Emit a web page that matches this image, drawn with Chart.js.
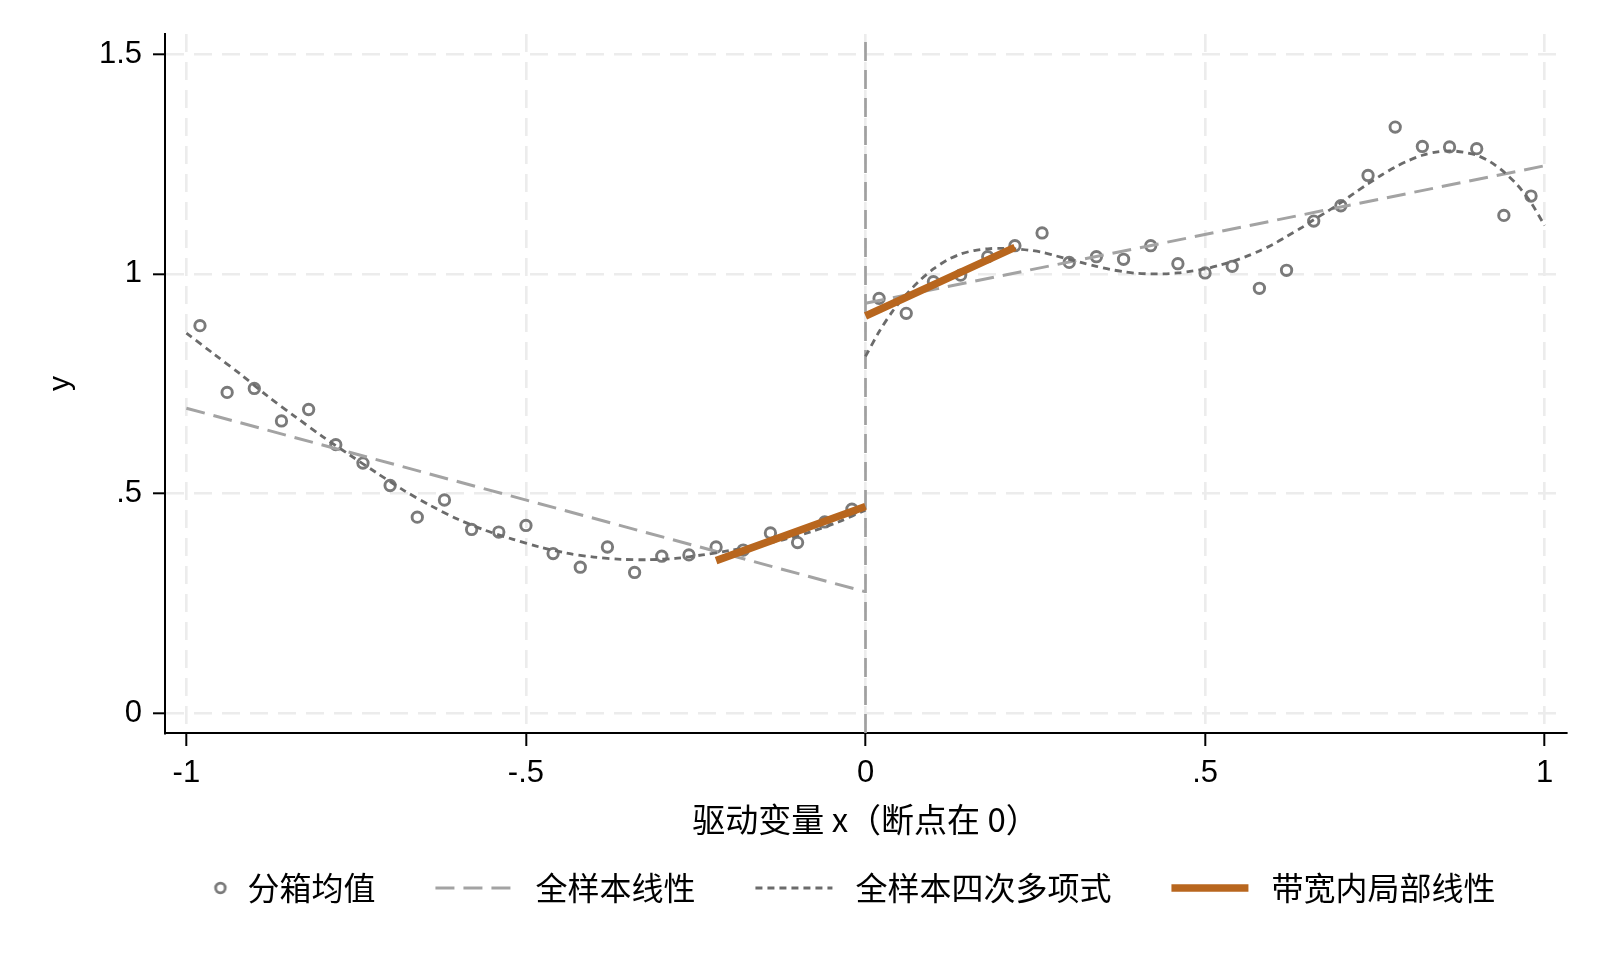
<!DOCTYPE html>
<html>
<head>
<meta charset="utf-8">
<script src="https://cdn.jsdelivr.net/npm/chart.js@4"></script>
<style>
html,body{margin:0;padding:0;background:#fff;}
#wrap{width:1600px;height:960px;}
canvas{display:block;}
</style>
</head>
<body>
<div id="wrap"><canvas id="c" width="1600" height="960"></canvas></div>
<script>
// ---------------- data ----------------
const BIN_X_LEFT  = [-0.98,-0.94,-0.90,-0.86,-0.82,-0.78,-0.74,-0.70,-0.66,-0.62,-0.58,-0.54,-0.50,-0.46,-0.42,-0.38,-0.34,-0.30,-0.26,-0.22,-0.18,-0.14,-0.10,-0.06,-0.02];
const BIN_Y_LEFT  = [0.882,0.730,0.739,0.665,0.691,0.611,0.569,0.518,0.446,0.485,0.418,0.412,0.427,0.363,0.332,0.378,0.320,0.357,0.360,0.378,0.371,0.410,0.388,0.435,0.464];
const BIN_X_RIGHT = [0.02,0.06,0.10,0.14,0.18,0.22,0.26,0.30,0.34,0.38,0.42,0.46,0.50,0.54,0.58,0.62,0.66,0.70,0.74,0.78,0.82,0.86,0.90,0.94,0.98];
const BIN_Y_RIGHT = [0.944,0.910,0.982,0.997,1.039,1.064,1.093,1.026,1.039,1.033,1.064,1.023,1.002,1.017,0.967,1.008,1.120,1.155,1.224,1.334,1.290,1.289,1.285,1.133,1.177];

const LIN_X_LEFT  = [-1, 0];
const LIN_Y_LEFT  = [0.694, 0.276];
const LIN_X_RIGHT = [0, 1];
const LIN_Y_RIGHT = [0.933, 1.246];

const POLY_X_LEFT = [-1.00,-0.96,-0.92,-0.88,-0.84,-0.80,-0.76,-0.72,-0.68,-0.64,-0.60,-0.56,-0.52,-0.48,-0.44,-0.40,-0.36,-0.32,-0.28,-0.24,-0.20,-0.16,-0.12,-0.08,-0.04,0.00];
const POLY_Y_LEFT = [0.865,0.818,0.771,0.721,0.675,0.630,0.588,0.547,0.507,0.472,0.441,0.416,0.396,0.378,0.364,0.355,0.350,0.349,0.352,0.360,0.370,0.381,0.395,0.413,0.435,0.462];
const POLY_X_RIGHT = [0.00,0.02,0.04,0.06,0.08,0.10,0.12,0.14,0.16,0.18,0.20,0.22,0.24,0.26,0.28,0.30,0.32,0.34,0.36,0.38,0.40,0.42,0.44,0.46,0.48,0.50,0.52,0.54,0.56,0.58,0.60,0.62,0.64,0.66,0.68,0.70,0.72,0.74,0.76,0.78,0.80,0.82,0.84,0.86,0.88,0.90,0.92,0.94,0.96,0.98,1.00];
const POLY_Y_RIGHT = [0.812,0.868,0.915,0.953,0.985,1.011,1.031,1.045,1.053,1.057,1.058,1.057,1.054,1.049,1.041,1.033,1.025,1.017,1.010,1.005,1.001,1.000,1.000,1.002,1.006,1.011,1.019,1.028,1.039,1.052,1.067,1.085,1.103,1.123,1.142,1.162,1.184,1.205,1.225,1.243,1.258,1.270,1.277,1.280,1.277,1.270,1.255,1.232,1.202,1.162,1.110];

const LOC_X_LEFT  = [-0.22, 0];
const LOC_Y_LEFT  = [0.347, 0.470];
const LOC_X_RIGHT = [0, 0.22];
const LOC_Y_RIGHT = [0.904, 1.060];

const CUTOFF_X = 0;
const X_MIN = -1.0315, X_MAX = 1.0315;
const Y_MIN = -0.0455, Y_MAX = 1.546;
const X_TICKS = [-1, -0.5, 0, 0.5, 1];
const X_TICK_LABELS = ['-1', '-.5', '0', '.5', '1'];
const Y_TICKS = [0, 0.5, 1, 1.5];
const Y_TICK_LABELS = ['0', '.5', '1', '1.5'];
const X_TITLE = '驱动变量 x（断点在 0）';
const Y_TITLE = 'y';
const LEGEND_LABELS = ['分箱均值', '全样本线性', '全样本四次多项式', '带宽内局部线性'];

// ---------------- styles ----------------
const C_POINT = '#7a7a7a';
const C_LIN = '#a3a3a3';
const C_POLY = '#6b6b6b';
const C_LOC = '#B8661E';
const C_CUT = '#a0a0a0';
const C_GRID = '#ececec';
const DASH_LONG = [19, 9];
const DASH_SHORT = [7, 5];
const CJK = "'Noto Sans CJK SC', 'Noto Sans', sans-serif";
const LAT = "'Liberation Sans', Arial, sans-serif";

const pts = (xs, ys) => xs.map((x, i) => ({x: x, y: ys[i]}));
const GAP = {x: 0, y: null};

function makeIcon(draw) {
  const c = document.createElement('canvas');
  c.width = 90; c.height = 16;
  const g = c.getContext('2d');
  draw(g);
  return c;
}
function lineIcon(color, width, dash) {
  return makeIcon(g => {
    g.strokeStyle = color; g.lineWidth = width; g.setLineDash(dash);
    g.beginPath(); g.moveTo(6, 8); g.lineTo(83, 8); g.stroke();
  });
}
const ICONS = [
  makeIcon(g => { g.strokeStyle = C_POINT; g.lineWidth = 2.8; g.beginPath(); g.arc(79, 8, 4.8, 0, Math.PI * 2); g.stroke(); }),
  lineIcon(C_LIN, 3, DASH_LONG),
  lineIcon(C_POLY, 2.8, DASH_SHORT),
  lineIcon(C_LOC, 7.5, [])
];

const layoutFix = {
  id: 'layoutFix',
  afterLayout(chart) {
    const lg = chart.legend;
    if (!lg) return;
    lg.left = 0; lg.right = 1636.8;
    lg.top = 818; lg.bottom = 935;
  }
};

const gridCommon = {
  color: C_GRID, lineWidth: 2.6, drawTicks: true,
  tickColor: '#000', tickWidth: 2
};

new Chart(document.getElementById('c'), {
  type: 'scatter',
  data: {
    datasets: [
      {
        label: LEGEND_LABELS[0],
        data: [...pts(BIN_X_LEFT, BIN_Y_LEFT), ...pts(BIN_X_RIGHT, BIN_Y_RIGHT)],
        showLine: false, pointRadius: 5.2, pointBorderWidth: 2.9,
        pointBorderColor: C_POINT, pointBackgroundColor: 'rgba(0,0,0,0)', order: 4
      },
      {
        label: LEGEND_LABELS[1],
        data: [...pts(LIN_X_LEFT, LIN_Y_LEFT), GAP, ...pts(LIN_X_RIGHT, LIN_Y_RIGHT)],
        showLine: true, borderColor: C_LIN, borderWidth: 3, borderDash: DASH_LONG,
        pointRadius: 0, fill: false, order: 3
      },
      {
        label: LEGEND_LABELS[2],
        data: [...pts(POLY_X_LEFT, POLY_Y_LEFT), GAP, ...pts(POLY_X_RIGHT, POLY_Y_RIGHT)],
        showLine: true, borderColor: C_POLY, borderWidth: 2.8, borderDash: DASH_SHORT,
        pointRadius: 0, fill: false, tension: 0.3, order: 2
      },
      {
        label: LEGEND_LABELS[3],
        data: [...pts(LOC_X_LEFT, LOC_Y_LEFT), GAP, ...pts(LOC_X_RIGHT, LOC_Y_RIGHT)],
        showLine: true, borderColor: C_LOC, borderWidth: 7.5, pointRadius: 0, fill: false, order: 1
      },
      {
        label: 'cutoff',
        data: [{x: CUTOFF_X, y: Y_MIN}, {x: CUTOFF_X, y: Y_MAX}],
        showLine: true, borderColor: C_CUT, borderWidth: 2.7, borderDash: DASH_LONG,
        pointRadius: 0, fill: false, order: 5
      }
    ]
  },
  options: {
    responsive: false,
    animation: false,
    layout: { padding: { top: 34, right: 34, left: 0, bottom: 21 } },
    plugins: {
      tooltip: { enabled: false },
      legend: {
        position: 'bottom', align: 'center',
        labels: {
          usePointStyle: true, pointStyleWidth: 90, padding: 54,
          font: { family: CJK, size: 32 }, color: '#000',
          generateLabels: () => LEGEND_LABELS.map((t, i) => ({
            text: t, pointStyle: ICONS[i], datasetIndex: i, hidden: false,
            fillStyle: 'rgba(0,0,0,0)', strokeStyle: 'rgba(0,0,0,0)', lineWidth: 0, fontColor: '#000'
          }))
        }
      }
    },
    scales: {
      x: {
        type: 'linear', position: 'bottom', min: X_MIN, max: X_MAX,
        afterBuildTicks: s => { s.ticks = X_TICKS.map(v => ({value: v})); },
        afterFit: s => { s.height = 110; },
        ticks: {
          callback: (v, i) => X_TICK_LABELS[i], autoSkip: false, maxRotation: 0, minRotation: 0,
          font: { family: LAT, size: 31 }, color: '#000', padding: 9
        },
        grid: Object.assign({}, gridCommon, { tickLength: 13 }),
        border: { display: true, color: '#000', width: 2, dash: [18, 10] },
        title: { display: true, text: X_TITLE, font: { family: CJK, size: 33 }, color: '#000', padding: { top: 0, bottom: 4.2 } }
      },
      y: {
        type: 'linear', position: 'left', min: Y_MIN, max: Y_MAX,
        afterBuildTicks: s => { s.ticks = Y_TICKS.map(v => ({value: v})); },
        afterFit: s => { s.width = 165; },
        ticks: {
          callback: (v, i) => Y_TICK_LABELS[i], autoSkip: false,
          font: { family: LAT, size: 31 }, color: '#000', padding: 11
        },
        grid: Object.assign({}, gridCommon, { tickLength: 12 }),
        border: { display: true, color: '#000', width: 2, dash: [18, 10] },
        title: { display: true, text: Y_TITLE, font: { family: LAT, size: 30 }, color: '#000', padding: { top: 43, bottom: 0 } }
      }
    }
  },
  plugins: [layoutFix]
});
</script>
</body>
</html>
